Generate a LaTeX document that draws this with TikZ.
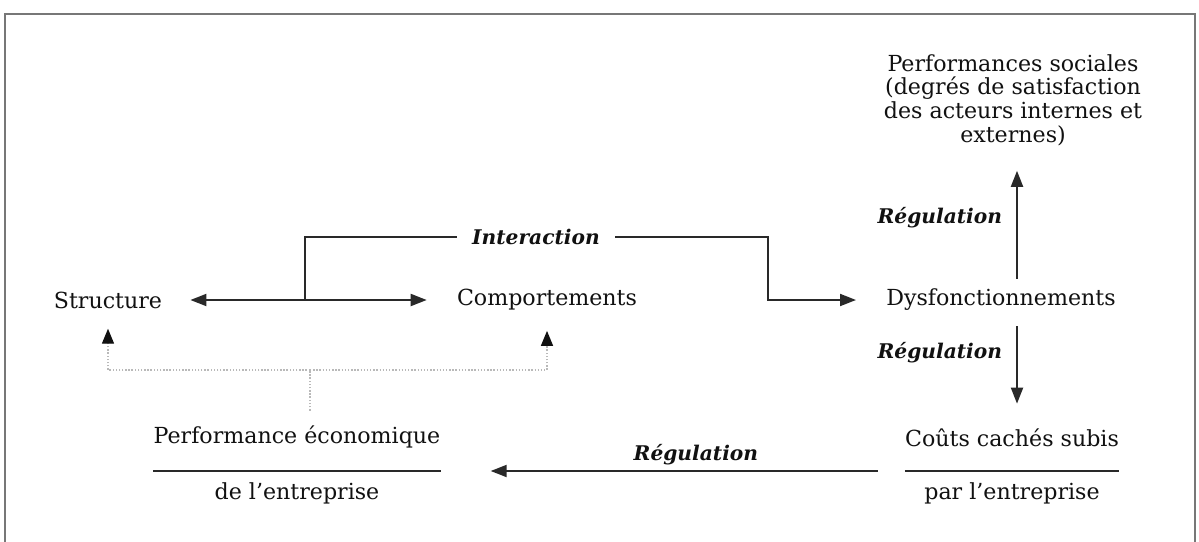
\documentclass[tikz,border=0pt]{standalone}
\usepackage{fontspec}
\setmainfont{DejaVu Serif}
\usepackage{tikz}
\usetikzlibrary{arrows.meta}
\definecolor{ink}{HTML}{111111}
\definecolor{framegray}{HTML}{777777}
\tikzstyle{every node}=[inner sep=0pt,text=ink,font=\fontsize{12.6}{13.4}\selectfont]
\tikzstyle{lbl}=[font=\fontsize{11.5}{13.4}\selectfont\bfseries\itshape]
\tikzstyle{conn}=[draw=ink!90,line width=1.1pt]
\tikzstyle{arr}=[conn,-{Triangle[length=0.32cm,width=0.24cm]}]
\tikzstyle{dblarr}=[conn,{Triangle[length=0.32cm,width=0.24cm]}-{Triangle[length=0.32cm,width=0.24cm]}]
\tikzstyle{fb}=[draw=gray!55,line width=0.8pt,densely dotted]
\tikzstyle{fbarr}=[fb,-{Triangle[length=0.3cm,width=0.24cm,color=ink]}]

\begin{document}
\begin{tikzpicture}[x=0.02cm,y=-0.02cm]
\fill[white] (0,0) rectangle (1199,541);
\useasboundingbox (0,0) rectangle (1199,541);
\draw[framegray,line width=1.3pt] (5,560) -- (5,14) -- (1195,14) -- (1195,560);
\node (struct) at (108,300) {Structure};
\node (comp) at (547,300) {Comportements};
\node (dysf) at (1001,300) {Dysfonctionnements};
\node[align=center] (soc) at (1013,100) {Performances sociales\\(degrés de satisfaction\\des acteurs internes et\\externes)};
\node (eco) at (297,437) {Performance économique};
\node (ecob) at (297,493) {de l’entreprise};
\node (couts) at (1012,438) {Coûts cachés subis};
\node (coutsb) at (1012,493) {par l’entreprise};
\node[lbl] (inter) at (536,237) {Interaction};
\coordinate (mid) at (305,300);
\coordinate (bend) at (768,237);
\coordinate (col) at (1017,0);
\coordinate (sep) at (0,471);
\coordinate (fbj) at (310,370);
\draw[dblarr,shorten <=0.56cm,shorten >=0.6cm] (struct.east) -- (comp.west);
\draw[conn,shorten >=0.3cm] (mid) |- (inter.west);
\draw[arr,shorten <=0.3cm,shorten >=0.6cm] (inter.east) -- (bend) |- (dysf.west);
\draw[arr,shorten <=0.2cm,shorten >=0.5cm] (dysf.north -| col) -- node[lbl,left=0.28cm]{Régulation} (soc.south -| col);
\draw[arr,shorten <=0.3cm,shorten >=0.5cm] (dysf.south -| col) -- node[lbl,left=0.28cm,pos=0.35]{Régulation} (couts.north -| col);
\draw[conn] (eco.west |- sep) -- (eco.east |- sep);
\draw[conn] (couts.west |- sep) -- (couts.east |- sep);
\draw[arr,shorten <=0.54cm,shorten >=1cm] (couts.west |- sep) -- node[lbl,above=0.1cm,pos=0.45]{Régulation} (eco.east |- sep);
\draw[fb,shorten <=0.3cm] (eco.north -| fbj) -- (fbj);
\draw[fbarr,shorten >=0.4cm] (fbj) -| (struct.south);
\draw[fbarr,shorten >=0.4cm] (fbj) -| (comp.south);
\end{tikzpicture}
\end{document}
